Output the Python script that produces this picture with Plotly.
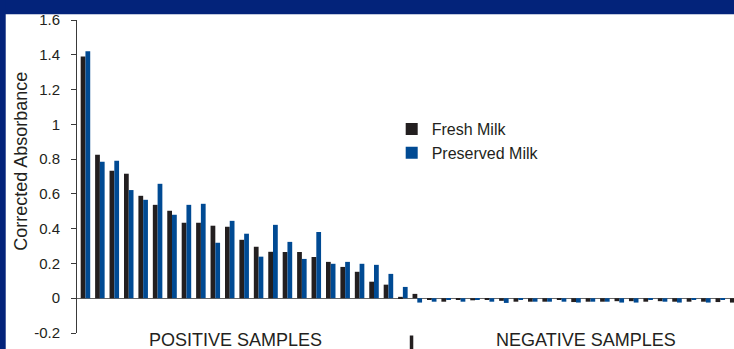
import plotly.graph_objects as go

# Corrected absorbance per sample, ordered as in the assay run
samples = list(range(46))
fresh_milk = [
    1.39, 0.825, 0.733, 0.716, 0.589, 0.537, 0.503, 0.434, 0.434, 0.417,
    0.411, 0.336, 0.296, 0.267, 0.266, 0.266, 0.237, 0.209, 0.180, 0.152,
    0.095, 0.078, 0.008,
    0.025, -0.005, -0.020, -0.010, -0.012, -0.005, -0.015, -0.020, -0.020,
    -0.020, -0.010, -0.022, -0.020, -0.020, -0.017, -0.017, -0.020, -0.017,
    -0.020, -0.020, -0.020, -0.022, -0.025,
]
preserved_milk = [
    1.42, 0.785, 0.790, 0.622, 0.566, 0.658, 0.480, 0.537, 0.543, 0.319,
    0.445, 0.371, 0.239, 0.422, 0.324, 0.226, 0.381, 0.198, 0.209, 0.198,
    0.192, 0.140, 0.065,
    -0.025, -0.020, -0.010, -0.020, -0.005, -0.020, -0.027, -0.010, -0.020,
    -0.020, -0.020, -0.025, -0.020, -0.020, -0.025, -0.025, -0.010, -0.020,
    -0.025, -0.010, -0.025, -0.010, -0.020,
]

y_tick_vals = [-0.2, 0, 0.2, 0.4, 0.6, 0.8, 1, 1.2, 1.4, 1.6]
y_tick_text = ["-0.2", "0", "0.2", "0.4", "0.6", "0.8", "1", "1.2", "1.4", "1.6"]

group_labels = ["POSITIVE SAMPLES", "NEGATIVE SAMPLES"]
group_label_x = [10.4, 34.7]
group_divider_x = 22.6

NAVY = "#03237a"
BLACK = "#231f20"
BLUE = "#004a93"
TEXT = "#231f20"
FONT = "Liberation Sans, Arial, sans-serif"

fig = go.Figure()
fig.add_trace(go.Bar(x=samples, y=fresh_milk, name="Fresh Milk",
                     marker=dict(color=BLACK, line=dict(width=0))))
fig.add_trace(go.Bar(x=samples, y=preserved_milk, name="Preserved Milk",
                     marker=dict(color=BLUE, line=dict(width=0))))

# slide frame: header band and left edge strip
fig.add_shape(type="rect", xref="paper", yref="paper", x0=-0.2, x1=1.01,
              y0=1.0186, y1=1.08, fillcolor=NAVY, line=dict(width=0), layer="below")
fig.add_shape(type="rect", xref="paper", yref="paper", x0=-0.125, x1=-0.1085,
              y0=-0.06, y1=1.08, fillcolor=NAVY, line=dict(width=0), layer="below")

# divider between the two sample groups
fig.add_shape(type="line", xref="x", yref="paper", x0=group_divider_x, x1=group_divider_x,
              y0=-0.008, y1=-0.06, line=dict(color=TEXT, width=3.5))

for label, gx in zip(group_labels, group_label_x):
    fig.add_annotation(x=gx, xref="x", y=0, yref="paper", yanchor="top", yshift=5,
                       text=label, showarrow=False,
                       font=dict(family=FONT, size=18, color=TEXT))

fig.add_annotation(x=0, xref="paper", xanchor="center", xshift=-56,
                   y=0.547, yref="paper", yanchor="middle",
                   text="Corrected Absorbance", textangle=-90, showarrow=False,
                   font=dict(family=FONT, size=18, color=TEXT))

fig.update_layout(
    width=734, height=349,
    margin=dict(l=77, r=0, t=20, b=16),
    paper_bgcolor="white", plot_bgcolor="white",
    barmode="group", bargap=0.34, bargroupgap=0,
    font=dict(family=FONT, color=TEXT),
    showlegend=True,
    legend=dict(x=0.479, y=0.706, xanchor="left", yanchor="top",
                bgcolor="rgba(0,0,0,0)", font=dict(family=FONT, size=16, color=TEXT),
                itemsizing="constant", tracegroupgap=0),
    xaxis=dict(range=[-0.586, 44.95], showticklabels=False, ticks="",
               showline=False, showgrid=False, zeroline=False),
    yaxis=dict(range=[-0.2, 1.6], tickvals=y_tick_vals, ticktext=y_tick_text,
               ticks="outside", ticklen=5, tickwidth=1, tickcolor="#3a3a3a",
               showline=True, linecolor="#3a3a3a", linewidth=1,
               showgrid=False, zeroline=True, zerolinecolor="#666666", zerolinewidth=1,
               tickfont=dict(family=FONT, size=15, color=TEXT), ticklabelstandoff=8),
)

fig.write_html("out.html")
